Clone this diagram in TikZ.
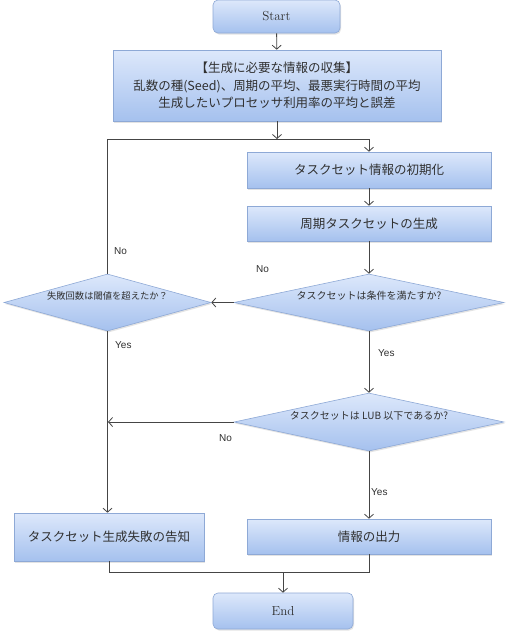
\documentclass[tikz,border=0pt]{standalone}
\usepackage{fontspec}
\newfontfamily\jp{Noto Sans CJK JP}
\newfontfamily\lsans{Liberation Sans}
\usetikzlibrary{shapes.geometric,arrows.meta,shadows}
\definecolor{boxtop}{HTML}{DDE8FB}
\definecolor{boxbot}{HTML}{A5C1EE}
\definecolor{boxline}{HTML}{8EA9D6}
\definecolor{lin}{HTML}{454545}
\definecolor{txt}{HTML}{303030}
\begin{document}
\begin{tikzpicture}[x=1pt,y=-1pt,
  base/.style={draw=boxline, line width=0.6pt, top color=boxtop, bottom color=boxbot, text=txt,
    drop shadow={opacity=0.22, shadow xshift=1pt, shadow yshift=-1.5pt}, inner sep=0pt},
  procbox/.style={base, rectangle, font=\jp\fontsize{12.5}{17.5}\selectfont, align=center},
  termbox/.style={base, rectangle, rounded corners=5pt, font=\fontsize{13}{15}\selectfont},
  decbox/.style={base, diamond, text depth=14pt, font=\jp\fontsize{10}{11}\selectfont},
  flow/.style={draw=lin, line width=0.8pt, -{Straight Barb[length=4pt,width=9pt]}},
  plain/.style={draw=lin, line width=0.8pt},
  lbl/.style={font=\lsans\fontsize{10}{12}\selectfont, text=txt, inner sep=0pt}]
\fill[white] (0,0) rectangle (508,633);
\useasboundingbox (0,0) rectangle (508,633);

\node[termbox, minimum width=127pt, minimum height=33pt] (start) at (276.5,16.5) {Start};
\node[procbox, minimum width=328pt, minimum height=71pt] (info) at (277,85.5)
  {【生成に必要な情報の収集】\\乱数の種(Seed)、周期の平均、最悪実行時間の平均\\生成したいプロセッサ利用率の平均と誤差};
\node[procbox, minimum width=244pt, minimum height=36pt] (init) at (369,170) {タスクセット情報の初期化};
\node[procbox, minimum width=244pt, minimum height=35pt] (gen) at (369,223.5) {周期タスクセットの生成};
\node[decbox, minimum width=270pt, minimum height=57pt, aspect=4.7] (d1) at (369,302.5) {タスクセットは条件を満たすか?};
\node[decbox, minimum width=207pt, minimum height=57pt, aspect=3.6, font=\jp\fontsize{9.3}{11}\selectfont] (d2) at (107.5,302.5) {失敗回数は閾値を超えたか？};
\node[decbox, minimum width=270pt, minimum height=58pt, aspect=4.7] (d3) at (369,422) {タスクセットは LUB 以下であるか?};
\node[procbox, minimum width=190pt, minimum height=48pt] (fail) at (109,537) {タスクセット生成失敗の告知};
\node[procbox, minimum width=244pt, minimum height=35pt] (out) at (369,536.5) {情報の出力};
\node[termbox, minimum width=140pt, minimum height=36pt] (end) at (283,611) {End};

\coordinate (j1) at (277,139);
\coordinate (jr) at (369,139);
\coordinate (jl) at (108,422);
\coordinate (je) at (283,572);

\draw[flow] (start) -- (info);
\draw[flow] (info) -- (j1);
\draw[flow] (d2.north) |- (jr) -- (init.north);
\draw[flow] (init) -- (gen);
\draw[flow] (gen) -- (d1.north);
\draw[flow] (d1.west) -- (d2.east);
\draw[flow] (d1.south) -- (d3.north);
\draw[flow] (d3.west) -- (jl);
\draw[flow] (d2.south) -- (fail.north -| d2.south);
\draw[flow] (d3.south) -- (out.north);
\draw[plain] (fail.south) |- (je);
\draw[plain] (out.south) |- (je);
\draw[flow] (je) -- (end.north);

\node[lbl, anchor=west] (n1) at (114,251) {No};
\node[lbl, anchor=west] (n2) at (256,269) {No};
\node[lbl, anchor=west] (y1) at (115,345) {Yes};
\node[lbl, anchor=west] (y2) at (378,353) {Yes};
\node[lbl, anchor=west] (n3) at (219,438) {No};
\node[lbl, anchor=west] (y3) at (371,492) {Yes};
\end{tikzpicture}
\end{document}
